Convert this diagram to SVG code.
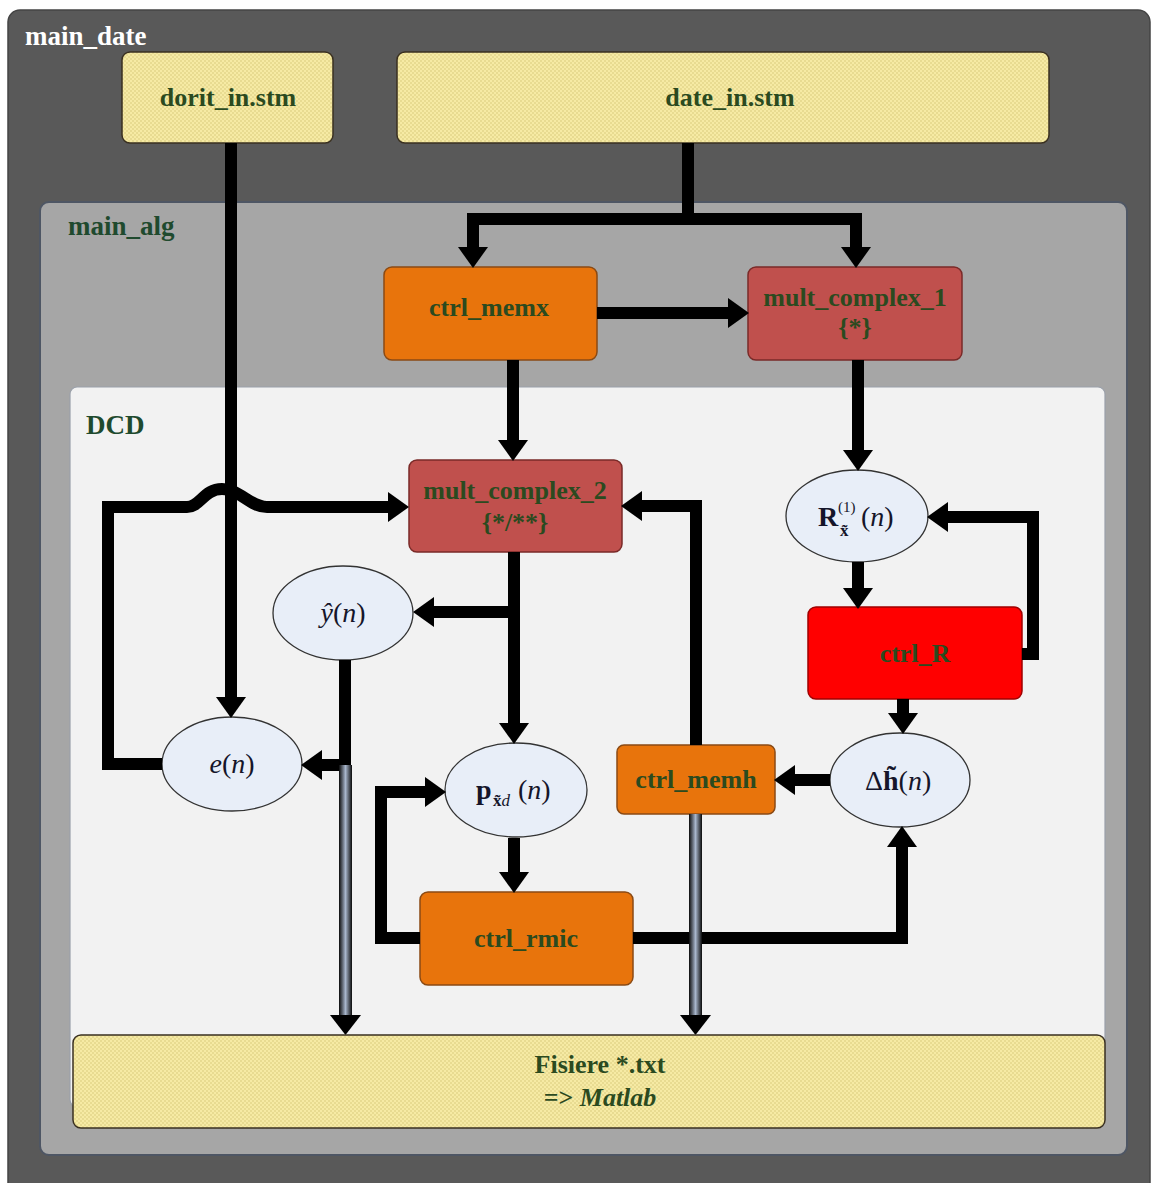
<svg xmlns="http://www.w3.org/2000/svg" width="1155" height="1183" viewBox="0 0 1155 1183">
<defs>
  <pattern id="dots" width="4" height="4" patternUnits="userSpaceOnUse">
    <rect width="4" height="4" fill="#f6eaa4"/>
    <circle cx="1" cy="1" r="0.8" fill="#d8c87a"/>
    <circle cx="3" cy="3" r="0.8" fill="#d8c87a"/>
  </pattern>
  <linearGradient id="cyl" x1="0" y1="0" x2="1" y2="0">
    <stop offset="0" stop-color="#0a0a0a"/>
    <stop offset="0.5" stop-color="#a8b6cc"/>
    <stop offset="1" stop-color="#0a0a0a"/>
  </linearGradient>
  <marker id="ah" markerUnits="userSpaceOnUse" markerWidth="21" markerHeight="30" refX="0" refY="15" orient="auto">
    <path d="M0,0 L21,15 L0,30 Z" fill="#000"/>
  </marker>
  <style>
    .lbl{font-family:"Liberation Serif","Times New Roman",serif;font-weight:bold;font-size:26px;fill:#2b4a1f;text-anchor:middle}
    .grp{font-family:"Liberation Serif","Times New Roman",serif;font-weight:bold;font-size:27px}
    .math{font-family:"Liberation Serif","Times New Roman",serif;font-size:28px;fill:#15152a}
    .yel{fill:url(#dots);stroke:#3a3020;stroke-width:1.5}
    .org{fill:#e8740c;stroke:#8a4a14;stroke-width:1.5}
    .brn{fill:#c0504d;stroke:#7a2a28;stroke-width:1.5}
    .ell{fill:#e8eef8;stroke:#333;stroke-width:1.3}
    .c{fill:none;stroke:#000;stroke-width:12;stroke-linejoin:miter}
    .ca{fill:none;stroke:#000;stroke-width:12;stroke-linejoin:miter;marker-end:url(#ah)}
  </style>
</defs>
<rect width="1155" height="1183" fill="#ffffff"/>
<g id="main_date">
  <rect x="8" y="10" width="1142" height="1200" rx="12" fill="#595959" stroke="#444" stroke-width="1.5"/>
  <text x="25" y="45" class="grp" fill="#ffffff">main_date</text>
</g>
<g id="main_alg">
  <rect x="40" y="202" width="1087" height="953" rx="9" fill="#a6a6a6" stroke="#4e5664" stroke-width="2"/>
  <text x="68" y="235" class="grp" fill="#1f4a2e">main_alg</text>
</g>
<g id="DCD">
  <rect x="70" y="387" width="1035" height="720" rx="7" fill="#f2f2f2" stroke="#9aa0aa" stroke-width="1.2"/>
  <text x="86" y="434" class="grp" fill="#1f4a2e">DCD</text>
</g>
<g id="dorit_in">
  <rect x="122" y="52" width="211" height="91" rx="8" class="yel"/>
  <text x="228" y="106" class="lbl">dorit_in.stm</text>
</g>
<g id="date_in">
  <rect x="397" y="52" width="652" height="91" rx="8" class="yel"/>
  <text x="730" y="106" class="lbl">date_in.stm</text>
</g>
<g id="ctrl_memx">
  <rect x="384" y="267" width="213" height="93" rx="8" class="org"/>
  <text x="489" y="316" class="lbl">ctrl_memx</text>
</g>
<g id="mult_complex_1">
  <rect x="748" y="267" width="214" height="93" rx="8" class="brn"/>
  <text x="855" y="306" class="lbl">mult_complex_1</text>
  <text x="855" y="336" class="lbl">{*}</text>
</g>
<g id="mult_complex_2">
  <rect x="409" y="460" width="213" height="92" rx="8" class="brn"/>
  <text x="515" y="499" class="lbl">mult_complex_2</text>
  <text x="515" y="531" class="lbl">{*/**}</text>
</g>
<g id="R">
  <ellipse cx="857" cy="516" rx="71" ry="46" class="ell"/>
  <text x="818" y="526" class="math"><tspan font-weight="bold">R</tspan><tspan x="838" y="512" style="font-size:15px">(1)</tspan><tspan x="840" y="536" style="font-size:17px;font-weight:bold">x̃</tspan><tspan x="861" y="526">(</tspan><tspan font-style="italic">n</tspan>)</text>
</g>
<g id="ctrl_R">
  <rect x="808" y="607" width="214" height="92" rx="8" fill="#ff0000" stroke="#a00000" stroke-width="1.5"/>
  <text x="915" y="662" class="lbl" fill="#4a3010">ctrl_R</text>
</g>
<g id="dh">
  <ellipse cx="900" cy="780" rx="70" ry="47" class="ell"/>
  <text x="865" y="790" class="math">Δ<tspan font-weight="bold">h̃</tspan>(<tspan font-style="italic">n</tspan>)</text>
</g>
<g id="ctrl_memh">
  <rect x="617" y="745" width="158" height="69" rx="7" class="org"/>
  <text x="696" y="788" class="lbl">ctrl_memh</text>
</g>
<g id="yhat">
  <ellipse cx="343" cy="613" rx="70" ry="47" class="ell"/>
  <text x="343" y="622" class="math" text-anchor="middle"><tspan font-style="italic">ŷ</tspan>(<tspan font-style="italic">n</tspan>)</text>
</g>
<g id="e">
  <ellipse cx="232" cy="764" rx="70" ry="47" class="ell"/>
  <text x="232" y="773" class="math" text-anchor="middle"><tspan font-style="italic">e</tspan>(<tspan font-style="italic">n</tspan>)</text>
</g>
<g id="p">
  <ellipse cx="516" cy="790" rx="71" ry="47" class="ell"/>
  <text x="476" y="799" class="math"><tspan font-weight="bold">p</tspan><tspan x="493" y="806" style="font-size:17px"><tspan font-weight="bold">x̃</tspan><tspan font-style="italic">d</tspan></tspan><tspan x="518" y="799">(</tspan><tspan font-style="italic">n</tspan>)</text>
</g>
<g id="ctrl_rmic">
  <rect x="420" y="892" width="213" height="93" rx="8" class="org"/>
  <text x="526" y="947" class="lbl">ctrl_rmic</text>
</g>
<g id="connectors">
  <path class="c" d="M688 143 V219"/>
  <path class="ca" d="M688 219 H473 V247"/>
  <path class="ca" d="M688 219 H856 V247"/>
  <path class="ca" d="M231 143 V697"/>
  <path class="ca" d="M597 313 H728"/>
  <path class="ca" d="M513 360 V440"/>
  <path class="ca" d="M858 360 V450"/>
  <path class="ca" d="M858 562 V588"/>
  <path class="ca" d="M1022 654 H1033 V517 H948"/>
  <path class="ca" d="M903 699 V713"/>
  <path class="ca" d="M830 780 H795"/>
  <path class="ca" d="M696 745 V506 H642"/>
  <path class="ca" d="M514 552 V723"/>
  <path class="ca" d="M514 612 H434"/>
  <path class="c" d="M345 660 V765"/>
  <path class="ca" d="M351 765 H322"/>
  <path class="ca" d="M162 764 H108 V507 H187 C200 507 204 489 222 489 C240 489 250 507 267 507 H388"/>
  <path class="ca" d="M514 838 V872"/>
  <path class="ca" d="M420 938 H381 V792 H425"/>
  <path class="ca" d="M633 938 H902 V847"/>
  <rect x="339" y="765" width="13" height="252" fill="url(#cyl)"/>
  <path d="M330 1015 L361 1015 L345.5 1035 Z" fill="#000"/>
  <rect x="689" y="814" width="13" height="203" fill="url(#cyl)"/>
  <path d="M680 1015 L711 1015 L695.5 1035 Z" fill="#000"/>
</g>
<g id="fisiere">
  <rect x="73" y="1035" width="1032" height="93" rx="8" class="yel"/>
  <text x="600" y="1073" class="lbl">Fisiere *.txt</text>
  <text x="600" y="1106" class="lbl">=&gt; <tspan font-style="italic">Matlab</tspan></text>
</g>
</svg>
